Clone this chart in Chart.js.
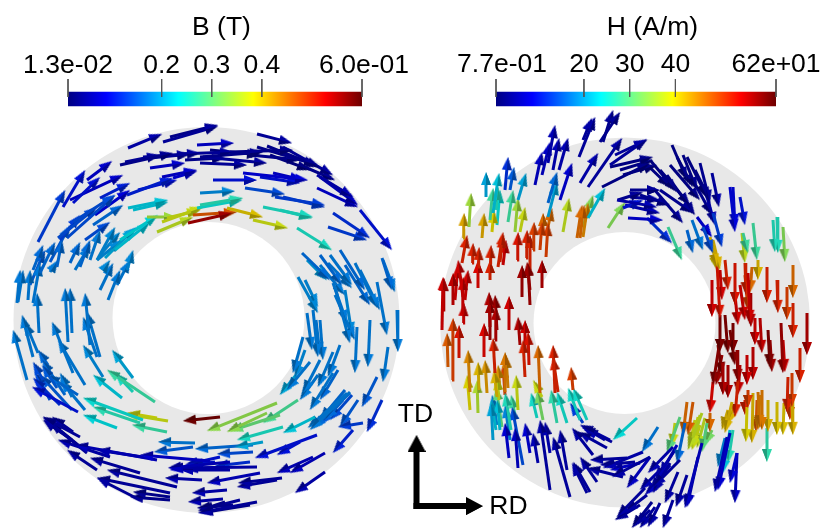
<!DOCTYPE html>
<html>
<head>
<meta charset="utf-8">
<title>B and H vector fields</title>
<script src="https://cdn.jsdelivr.net/npm/chart.js@4/dist/chart.umd.min.js"></script>
<style>
body { margin: 0; background: #fff; }
canvas { display: block; }
</style>
</head>
<body>
<canvas id="fieldChart" width="821" height="529"></canvas>
<script>
// colour bar ticks
const bTicks = [0.013, 0.2, 0.3, 0.4, 0.6];
const bTickLabels = ["1.3e-02", "0.2", "0.3", "0.4", "6.0e-01"];
const hTicks = [0.77, 20, 30, 40, 62];
const hTickLabels = ["7.7e-01", "20", "30", "40", "62e+01"];

// arrows: tail x, tail y, tip x, tip y, magnitude
const bArrows = [
  [163,142,218,126,.05],[170,137,218,125,.04],[128,148,162,134,.06],[257,134,292,143,.05],[197,145,234,143,.08],
  [120,165,173,153,.04],[143,157,200,153,.05],[177,154,233,152,.05],[200,157,263,152,.04],[230,152,293,150,.04],
  [257,147,317,165,.04],[267,146,320,167,.04],[283,147,333,175,.05],
  [150,168,185,163,.08],[200,163,247,165,.05],[203,157,267,163,.05],
  [162,177,197,170,.08],[173,178,197,171,.09],[213,180,257,180,.1],[243,173,308,180,.09],[260,177,300,183,.1],[273,173,303,180,.08],
  [317,175,353,197,.06],[320,177,358,205,.07],[317,188,358,207,.08],
  [63,207,85,170,.1],[87,180,112,161,.08],[73,203,100,177,.1],[70,200,123,175,.08],[100,198,130,183,.11],[127,195,173,178,.11],[138,190,177,180,.1],
  [38,242,65,190,.13],
  [200,193,235,191,.18],[245,188,285,194,.14],[275,197,325,205,.13],[283,197,325,207,.13],
  [128,208,168,200,.22],[133,210,168,202,.22],
  [200,205,243,198,.26],[197,208,242,200,.24],[263,207,313,217,.25],[280,210,312,218,.25],
  [93,225,123,205,.16],[67,238,115,195,.14],[73,222,115,195,.14],[58,238,97,207,.14],
  [333,213,370,238,.12],[328,227,367,240,.13],[360,210,392,250,.1],
  [297,228,332,250,.25],[253,220,288,228,.37],[227,208,263,217,.4],
  [188,223,232,213,.56],[193,215,237,212,.47],[157,232,193,217,.36],[162,222,203,207,.37],[167,218,200,210,.37],[147,217,177,217,.34],[120,240,158,215,.23],
  [115,250,150,222,.22],[105,258,135,228,.2],[97,260,122,240,.18],
  [33,270,43,245,.16],[40,273,55,242,.16],[57,267,62,240,.16],[70,263,80,242,.16],[80,267,90,240,.16],[90,260,100,230,.17],[97,260,115,227,.18],[107,253,137,227,.19],[103,270,110,260,.18],[127,270,133,250,.18],
  [302,253,330,280,.16],[320,255,342,285,.16],[330,255,352,285,.17],[340,250,365,290,.16],[382,258,392,290,.16],
  [33,303,40,263,.17],[18,302,23,270,.17],[17,303,20,270,.17],[28,300,30,270,.17],[50,272,58,260,.17],
  [100,290,113,263,.17],[108,300,120,270,.17],[117,285,130,260,.17],
  [39,333,37,293,.17],[68,342,65,288,.17],[72,333,70,288,.17],[90,345,85,293,.17],
  [27,380,13,330,.17],[33,357,22,315,.17],[38,353,25,322,.17],
  [73,373,52,322,.17],[97,357,83,317,.17],[100,357,87,312,.17],
  [85,385,58,340,.17],[103,377,83,345,.18],[133,378,112,350,.2],[122,398,93,375,.22],[155,402,107,370,.27],[133,392,115,373,.25],
  [43,380,33,362,.14],[57,388,42,365,.15],[78,395,47,375,.16],[72,397,60,373,.17],[78,412,32,387,.1],
  [117,428,83,415,.23],[143,420,83,398,.24],[140,423,93,407,.26],[167,432,132,425,.27],[168,421,125,414,.37],[157,418,127,413,.38],[220,417,183,421,.59],
  [277,403,207,431,.33],[267,413,227,432,.33],[280,415,230,431,.3],[298,400,263,423,.28],[283,427,237,440,.25],[315,417,283,433,.22],[263,442,235,447,.2],
  [195,443,158,442,.17],[193,447,154,452,.15],[253,445,195,449,.16],[253,452,217,454,.14],
  [230,462,168,468,.07],[257,467,170,468,.06],[210,461,140,455,.08],[157,460,75,445,.07],[143,457,97,450,.06],[87,453,43,417,.05],[80,437,43,417,.05],[110,457,58,440,.06],[97,470,67,450,.05],
  [140,473,90,458,.05],[177,487,107,470,.05],[170,493,97,478,.05],[140,500,97,478,.05],[170,497,133,492,.04],[170,500,130,497,.04],
  [202,480,165,478,.06],[227,490,192,493,.06],[223,499,188,502,.06],[257,502,198,513,.05],[233,505,197,508,.04],
  [260,473,207,483,.07],[282,478,238,483,.05],[277,480,237,487,.05],
  [325,453,290,473,.07],[313,457,277,473,.07],[325,472,295,493,.06],
  [317,435,255,458,.1],[300,442,277,455,.1],[353,430,333,453,.11],[382,400,367,432,.12],[363,423,338,427,.13],
  [350,392,310,430,.17],[347,393,308,428,.17],[343,400,325,420,.16],[358,400,340,427,.15],[377,377,362,407,.15],
  [388,347,383,382,.17],[397,310,398,352,.17],[377,282,387,335,.17],[370,320,368,367,.17],[357,327,355,373,.17],[335,287,350,343,.17],[383,260,395,292,.17],[355,263,377,307,.17],[328,263,352,288,.17],[307,260,327,280,.19],[333,283,347,323,.17],
  [298,277,318,313,.18],[305,280,318,307,.18],[307,313,312,350,.17],[313,310,318,357,.17],[320,320,323,360,.17],[333,352,318,387,.17],[340,345,328,377,.17],[303,337,293,373,.17],[310,362,287,390,.17],[320,360,303,393,.17],[333,373,310,410,.17],
  [350,393,313,428,.16],[345,395,320,425,.15],[72,440,43,420,.04],[78,445,50,422,.04],[73,432,52,417,.05],
  [60,405,33,378,.12],[50,400,35,372,.14],[72,410,40,375,.15],[85,410,60,380,.17],[65,395,42,360,.16],[48,365,38,350,.16],
  [250,505,200,513,.04],[225,502,198,511,.04],[240,500,200,510,.05],[230,470,180,470,.06],[225,467,185,469,.06],[200,466,170,470,.08],[215,462,190,465,.1],[250,462,215,466,.12],[220,457,185,465,.1],
  [210,150,260,155,.03],[250,155,300,160,.04],[270,155,310,170,.03],[300,165,335,180,.04],[150,158,190,154,.05],[125,162,160,155,.05],[185,160,225,158,.04],
  [95,215,130,190,.09],[60,240,80,215,.13],[50,262,70,225,.15],[85,240,110,222,.14],[30,285,45,250,.15],[75,270,90,245,.17],[100,255,120,232,.18],
  [345,265,370,305,.16],[360,270,380,310,.17],[320,265,345,295,.17],[335,295,355,340,.17],[345,290,352,335,.18],[316,320,320,355,.17],[305,350,295,378,.18],[296,375,280,395,.2],[318,375,300,400,.17],[338,370,320,400,.16],[345,390,320,420,.16],[352,395,330,420,.14]
];

const hArrows = [
  [600,142,620,112,4],[603,142,613,110,4],[579,157,595,117,5],[583,140,592,118,5],
  [548,163,555,125,6],[535,185,542,152,7],[542,175,550,142,7],[553,170,559,138,6],[559,170,568,138,6],
  [610,165,647,139,5],[615,155,647,140,5],[580,183,598,153,6],[588,187,622,138,5],
  [602,187,650,163,3],[610,167,653,157,3],[620,170,653,160,3],[623,175,657,165,3],
  [650,160,677,192,3],[640,158,670,187,3],[672,145,687,180,3],[683,155,697,190,3],[677,157,693,187,3],[687,157,707,197,3],[700,163,710,203,4],[712,173,719,207,5],
  [730,187,735,232,9],[733,187,735,227,9],[740,197,745,225,10],
  [773,220,775,252,26],[777,217,778,253,26],[783,227,785,262,33],[753,223,757,260,28],[743,233,748,253,28],[742,233,745,263,37],
  [617,200,657,207,6],[630,190,660,190,4],[618,200,643,192,4],[628,218,663,220,8],[647,218,672,243,12],[623,208,643,200,10],[660,190,693,213,4],[653,188,683,223,4],
  [668,227,682,260,28],[687,230,693,253,16],[692,220,703,250,17],[703,227,713,253,14],[713,213,722,247,13],[697,217,712,237,8],[710,237,717,267,42],[713,240,720,270,42],
  [608,228,625,202,33],
  [486,197,486,172,20],[493,213,499,173,22],[505,190,508,157,12],[510,190,514,167,15],[518,200,526,173,20],[490,220,493,188,28],[496,210,498,187,26],[508,222,513,190,28],[515,232,518,198,35],
  [469,227,471,193,35],[463,238,464,213,43],[482,238,484,213,43],[492,232,494,210,40],
  [548,203,557,172,16],[548,217,557,182,20],[560,200,572,163,8],[563,232,569,198,37],[588,218,605,188,22],
  [580,238,584,205,47],[577,238,582,205,47],[583,237,588,203,45],[583,227,593,195,33],
  [462,263,467,235,52],[472,263,473,243,52],[478,267,479,247,52],[490,263,491,245,52],[498,267,503,232,52],[517,260,518,232,53],[526,258,527,230,52],[533,250,534,222,50],[540,250,542,222,50],[546,257,548,223,50],[548,227,552,208,47],[543,233,543,213,47],
  [442,330,443,277,55],[453,305,453,273,56],[462,313,463,277,55],[463,297,458,260,55],[478,288,478,260,54],[490,280,490,260,52],
  [448,367,447,333,48],[452,380,453,318,50],[459,358,459,325,53],[463,323,464,303,55],
  [484,357,484,323,54],[490,327,489,292,57],[495,340,496,307,57],[509,330,509,296,55],[522,297,522,265,58],[530,305,528,263,58],[542,288,542,260,57],
  [520,345,518,317,57],[525,377,523,340,52],[529,365,528,332,53],[540,393,538,345,47],[555,393,553,345,52],[558,392,553,357,52],[573,390,571,367,50],
  [495,373,493,338,52],[505,392,505,352,46],[470,392,468,350,45],[479,390,478,362,42],[487,393,485,360,44],[497,397,494,370,42],[478,413,477,380,36],[499,400,497,377,38],[518,410,516,375,38],[542,397,533,380,38],
  [543,420,537,390,32],[537,418,531,393,25],[557,423,551,390,27],[567,423,557,392,25],[587,420,573,388,25],[580,420,568,388,25],[493,440,491,403,20],[500,430,497,400,22],[511,430,505,393,26],[502,427,496,387,30],
  [509,458,505,423,8],[518,468,515,428,7],[523,465,512,407,14],[530,453,525,423,8],[538,463,533,433,6],[550,490,540,420,5],[550,453,545,422,6],[570,497,553,437,5],[567,470,560,430,5],[590,492,573,462,5],[587,493,572,463,5],[597,482,580,457,5],[593,455,572,428,5],[607,448,578,432,5],[612,442,582,427,5],[583,423,570,403,13],
  [637,418,613,440,24],[658,427,642,452,17],[627,458,590,460,5],[643,452,603,468,6],[650,457,612,477,5],[650,457,627,488,7],[623,477,587,468,5],
  [673,447,648,473,6],[680,460,653,487,5],[670,463,653,493,5],[678,472,665,503,5],[687,475,676,507,5],[702,443,685,508,7],[698,457,687,507,6],
  [645,488,617,517,5],[647,495,625,512,5],[652,502,632,528,4],[660,503,648,527,5],[673,500,663,528,5],
  [680,417,667,453,30],[685,423,677,463,16],[687,402,683,435,47],[693,402,688,435,48],[702,413,688,450,37],[698,417,692,448,38],[707,423,702,452,30],[675,423,672,447,38],
  [732,402,725,433,42],[730,433,718,490,8],[727,437,715,492,7],[730,430,723,473,22],[733,430,728,463,26],[725,438,718,467,18],[737,453,730,483,9],[737,453,735,503,7],
  [712,280,712,317,55],[717,263,720,318,53],[720,315,720,352,60],[725,315,728,353,60],[733,323,733,353,60],[720,340,713,385,59],[713,382,710,413,54],[723,363,723,395,57],[728,365,728,398,57],[737,350,738,382,58],[738,380,735,417,52],[710,413,710,432,47],
  [747,355,747,385,55],[753,347,753,380,56],[748,273,750,323,55],[735,263,735,305,53],[745,263,746,295,52],[752,267,750,293,47],[767,267,767,303,52],[777,280,778,313,52],[787,287,787,320,50],[793,265,793,298,47],[793,303,793,338,52],[807,313,807,355,57],[750,293,751,327,57],[755,318,755,345,55],[760,318,762,353,56],[768,330,770,367,60],[781,323,783,373,58],[800,348,800,383,52],
  [788,377,787,412,52],[792,373,792,407,50],
  [748,390,748,408,50],[747,407,746,442,40],[753,393,752,443,42],[758,392,760,428,46],[762,390,762,430,46],[768,400,768,432,42],[777,402,777,435,41],[784,403,783,435,41],[792,400,793,435,42],[767,428,767,462,27],
  [758,260,758,280,42],[715,260,717,270,40],
  [660,170,690,205,3],[667,175,695,215,3],[670,165,700,200,3],[690,175,712,215,4],[695,170,710,200,3],[705,190,715,225,6],
  [640,195,670,205,4],[630,197,660,200,5],[625,205,660,213,6],
  [497,225,500,190,24],[520,232,525,207,38],
  [455,300,458,265,55],[443,310,444,278,56],[465,300,468,270,55],[500,262,503,235,52],[503,265,506,240,55],[530,270,530,235,52],
  [490,340,490,300,58],[497,330,495,295,58],[525,350,525,320,55],[530,290,527,262,58],
  [500,390,498,365,44],[508,388,506,355,45],[505,395,503,365,50],[496,430,491,400,22],[497,425,492,395,18],[510,440,505,405,18],[515,415,511,395,28],
  [470,410,467,375,40],
  [610,440,580,425,6],[605,440,585,428,6],[635,462,600,465,5],[640,463,610,470,8],
  [660,470,640,490,6],[670,465,650,490,7],[675,450,655,480,6],[677,445,660,475,8],[660,480,645,495,7],
  [640,505,615,520,4],[650,510,635,525,5],[655,507,640,528,5],
  [700,425,692,450,38],[695,420,690,445,38],[705,418,697,448,37],[700,415,693,445,37],[712,430,705,445,32],[735,405,727,425,42],[728,410,722,430,42],
  [725,260,728,290,52],[720,270,722,300,55],[735,295,738,325,55],[740,285,745,320,55],[745,275,748,310,50],[770,340,772,372,58],[783,340,785,372,55],[718,345,722,375,60],[730,330,735,365,60],[722,355,716,385,58],[740,365,738,395,56],[745,400,745,415,52],[790,400,790,420,50],[760,395,758,430,45],[757,400,756,432,48]
];

const jetStops = [
  [0, [0,0,130]], [0.13, [0,0,255]], [0.375, [0,255,255]], [0.5, [128,255,128]],
  [0.63, [255,255,0]], [0.75, [255,128,0]], [0.875, [255,0,0]], [1, [110,0,0]]
];

function jet(t) {
  t = Math.max(0, Math.min(1, t));
  for (let i = 1; i < jetStops.length; i++) {
    if (t <= jetStops[i][0]) {
      const a = jetStops[i - 1], b = jetStops[i];
      const f = (t - a[0]) / (b[0] - a[0]);
      return a[1].map((c, k) => c + (b[1][k] - c) * f);
    }
  }
  return jetStops[jetStops.length - 1][1];
}

function rgb(c, shade) {
  return "rgb(" + c.map(v => Math.round(v * shade)).join(",") + ")";
}

// arrow head sprite, pointing up, one side a bit darker like the 3D cones
function headSprite(color, w, h, darkColor) {
  const c = document.createElement("canvas");
  c.width = w;
  c.height = h;
  const g = c.getContext("2d");
  g.fillStyle = color;
  g.beginPath();
  g.moveTo(w / 2, 0);
  g.lineTo(w, h);
  g.lineTo(0, h);
  g.fill();
  g.fillStyle = darkColor;
  g.beginPath();
  g.moveTo(w / 2, 0);
  g.lineTo(w, h);
  g.lineTo(w / 2, h);
  g.fill();
  return c;
}

function arrowDataset(x0, y0, x1, y1, color, width, sprite) {
  const len = Math.hypot(x1 - x0, y1 - y0);
  const back = sprite.height / 2;
  return {
    data: [{x: x0, y: y0}, {x: x1 - (x1 - x0) / len * back, y: y1 - (y1 - y0) / len * back}],
    showLine: true,
    borderColor: color,
    borderWidth: width,
    borderCapStyle: "butt",
    pointRadius: [0, 5],
    pointStyle: sprite,
    pointRotation: Math.atan2(x1 - x0, y0 - y1) * 180 / Math.PI,
    clip: false,
    order: 1
  };
}

function fieldDatasets(rows, min, max) {
  return rows.map(r => {
    const c = jet((r[4] - min) / (max - min));
    return arrowDataset(r[0], r[1], r[2], r[3], rgb(c, 0.78), 3, headSprite(rgb(c, 0.85), 10, 13, rgb(c, 0.62)));
  });
}

function discDataset(x, y, r, color, order) {
  return { data: [{x: x, y: y}], pointRadius: r, pointBackgroundColor: color, pointBorderWidth: 0, clip: false, order: order };
}

function colorBar(x0, x1, y) {
  return {
    data: [{x: x0, y: y}, {x: x1, y: y}],
    showLine: true,
    borderWidth: 14.5,
    borderCapStyle: "butt",
    pointRadius: 0,
    clip: false,
    order: 2,
    borderColor: function (ctx) {
      const g = ctx.chart.ctx.createLinearGradient(x0, 0, x1, 0);
      jetStops.forEach(s => g.addColorStop(s[0], rgb(s[1], 1)));
      return g;
    }
  };
}

function barTicks(ticks, x0, x1) {
  const min = ticks[0], max = ticks[ticks.length - 1];
  return ticks.map(v => {
    const x = x0 + (v - min) / (max - min) * (x1 - x0);
    return { data: [{x: x, y: 79}, {x: x, y: 97}], showLine: true, borderColor: "#555", borderWidth: 1, pointRadius: 0, clip: false, order: 1 };
  });
}

const bBar = [68, 362];
const hBar = [496, 776];

const textPlugin = {
  id: "labels",
  afterDraw(chart) {
    const g = chart.ctx;
    const sx = chart.scales.x, sy = chart.scales.y;
    g.save();
    g.fillStyle = "#000";
    g.font = "26.5px 'Liberation Sans'";
    g.textAlign = "center";
    g.textBaseline = "alphabetic";
    const put = (t, x, y) => g.fillText(t, sx.getPixelForValue(x), sy.getPixelForValue(y));
    put("B (T)", 221.5, 35);
    put("H (A/m)", 652.5, 35);
    bTicks.forEach((v, i) => {
      const x = bBar[0] + (v - bTicks[0]) / (bTicks[4] - bTicks[0]) * (bBar[1] - bBar[0]);
      put(bTickLabels[i], i === 4 ? x + 2 : x, 72.5);
    });
    hTicks.forEach((v, i) => {
      const x = hBar[0] + (v - hTicks[0]) / (hTicks[4] - hTicks[0]) * (hBar[1] - hBar[0]);
      put(hTickLabels[i], i === 0 ? x + 6 : x, 72);
    });
    put("TD", 415.5, 422);
    put("RD", 508.5, 514);
    g.restore();
  }
};

const blackHead = headSprite("#000", 18, 17, "#000");

new Chart(document.getElementById("fieldChart"), {
  type: "scatter",
  data: {
    datasets: [
      arrowDataset(416.5, 509, 416.5, 435, "#000", 6, blackHead),
      arrowDataset(413.5, 506, 483, 506, "#000", 6, blackHead),
      colorBar(bBar[0], bBar[1], 99),
      colorBar(hBar[0], hBar[1], 99),
      ...barTicks(bTicks, bBar[0], bBar[1]),
      ...barTicks(hTicks, hBar[0], hBar[1]),
      ...fieldDatasets(bArrows, bTicks[0], bTicks[4]),
      ...fieldDatasets(hArrows, hTicks[0], hTicks[4]),
      discDataset(208.5, 318, 96, "#fff", 3),
      discDataset(624.5, 323, 91, "#fff", 3),
      discDataset(206.5, 320, 193, "#e8e8e8", 4),
      discDataset(625, 322.5, 185, "#e8e8e8", 4)
    ]
  },
  options: {
    responsive: false,
    animation: false,
    events: [],
    layout: { padding: 0, autoPadding: false },
    plugins: { legend: { display: false }, tooltip: { enabled: false } },
    scales: {
      x: { type: "linear", min: 0, max: 821, display: false },
      y: { type: "linear", min: 0, max: 529, reverse: true, display: false }
    }
  },
  plugins: [textPlugin]
});
</script>
</body>
</html>
